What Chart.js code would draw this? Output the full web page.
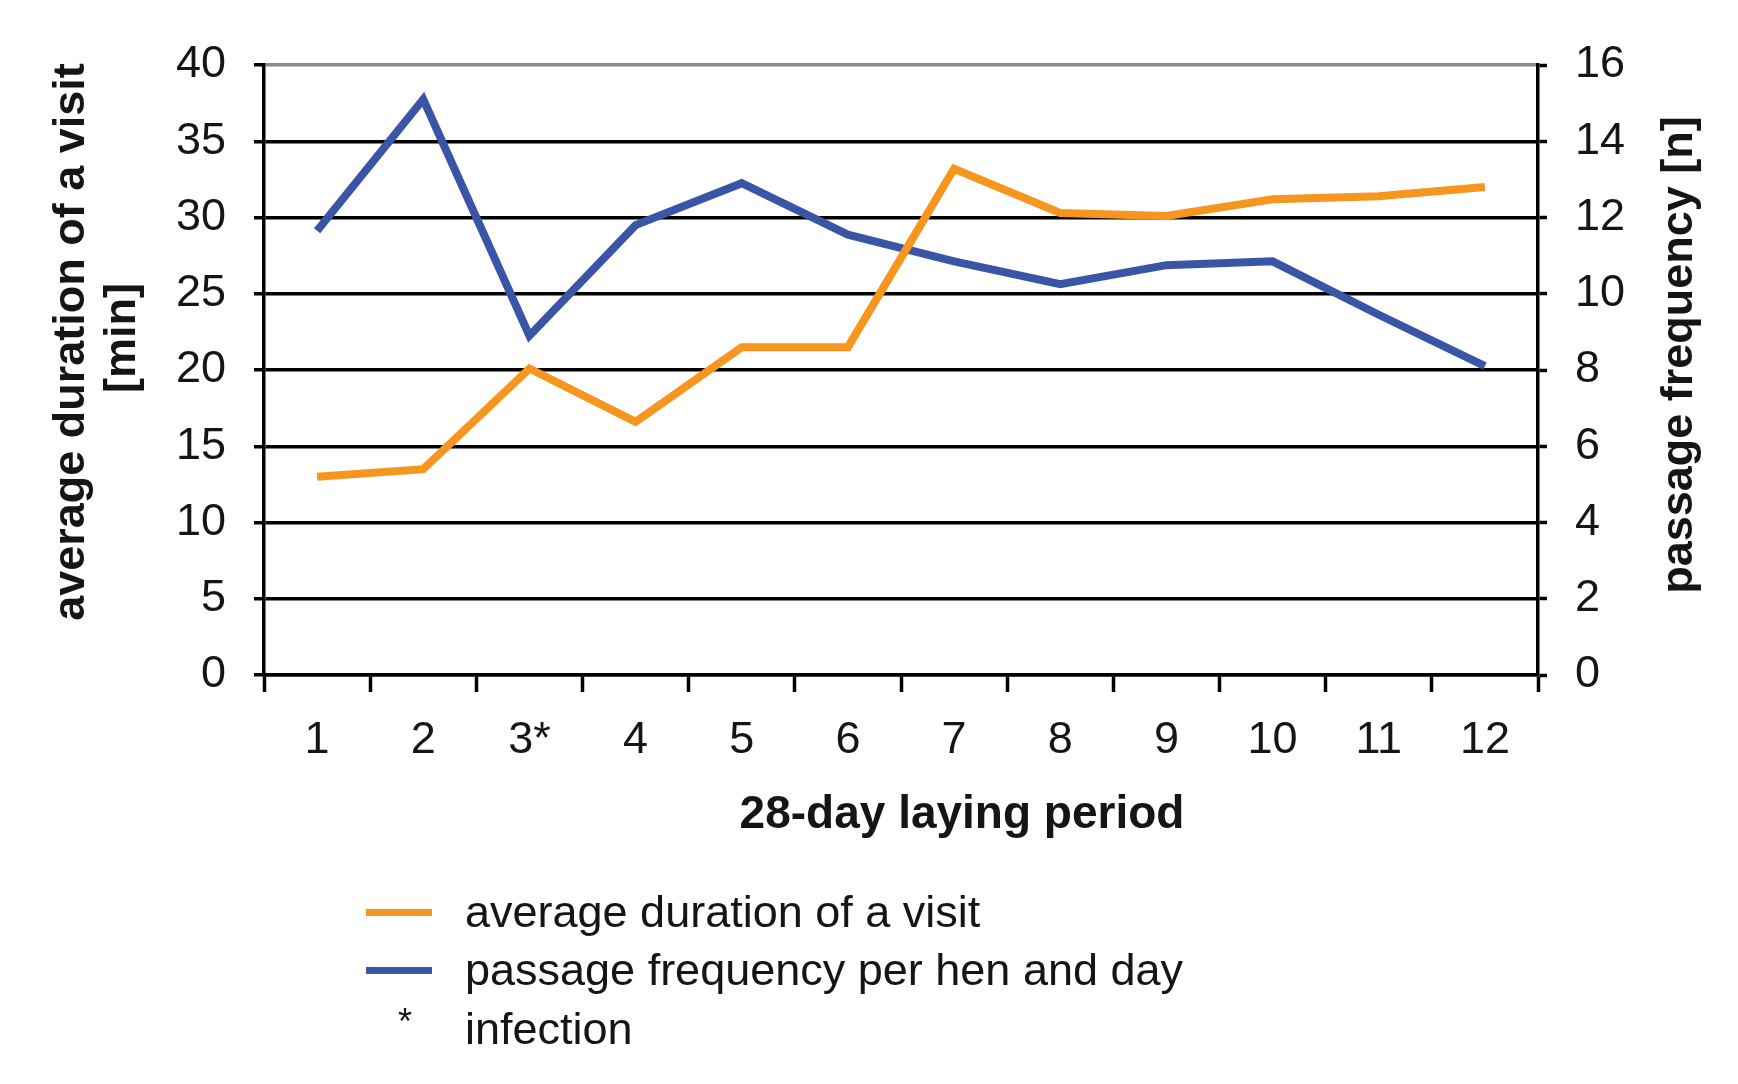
<!DOCTYPE html>
<html>
<head>
<meta charset="utf-8">
<script src="https://cdn.jsdelivr.net/npm/chart.js@4/dist/chart.umd.min.js"></script>
<style>
    html, body { margin: 0; padding: 0; background: #fff; }
    #wrap { position: relative; width: 1738px; height: 1084px; }
    #legend { position: absolute; left: 0; top: 0; font-family: "Liberation Sans", Arial, sans-serif; font-size: 45px; color: #151515; }
    .row { position: absolute; left: 366px; height: 60px; width: 1000px; }
    .row .swatch { position: absolute; left: 0; top: 27px; width: 66px; height: 7px; }
    .row .star { position: absolute; left: 32px; top: 2px; font-size: 36px; }
    .row .txt { position: absolute; left: 99px; top: 4px; white-space: nowrap; line-height: 52px; }
</style>
</head>
<body>
<div id="wrap">
    <canvas id="visitChart" width="1738" height="1084"></canvas>
    <div id="legend"></div>
</div>
<script>
// 28-day laying periods (3rd = infection)
const periods = ['1', '2', '3*', '4', '5', '6', '7', '8', '9', '10', '11', '12'];
// average duration of a visit [min]
const durationValues = [13.0, 13.5, 20.1, 16.6, 21.5, 21.5, 33.2, 30.3, 30.1, 31.2, 31.4, 32.0];
// passage frequency per hen and day [n]
const frequencyValues = [11.65, 15.1, 8.9, 11.8, 12.9, 11.55, 10.85, 10.25, 10.75, 10.85, 9.45, 8.1];
const leftTicks = [0, 5, 10, 15, 20, 25, 30, 35, 40];
const rightTicks = [0, 2, 4, 6, 8, 10, 12, 14, 16];

const ORANGE = '#f7961e';
const BLUE = '#3b55a6';
const TEXT = '#151515';
const FONT = '"Liberation Sans", Arial, sans-serif';

// 축 제목 직접 그리기 (위치 맞추기 위해)
function drawText(ctx, text, x, y, rot, font) {
    ctx.save();
    ctx.translate(x, y);
    ctx.rotate(rot);
    ctx.font = font;
    ctx.fillStyle = TEXT;
    ctx.textAlign = 'center';
    ctx.textBaseline = 'middle';
    ctx.fillText(text, 0, 0);
    ctx.restore();
}

const axisTitlePlugin = {
    id: 'axisTitles',
    afterDraw(chart) {
        const ctx = chart.ctx;
        const bold = 'bold 45px ' + FONT;
        drawText(ctx, 'average duration of a visit', 72, 342, -Math.PI / 2, bold);
        drawText(ctx, '[min]', 123, 338, -Math.PI / 2, bold);
        drawText(ctx, 'passage frequency [n]', 1680, 355, -Math.PI / 2, bold);
        drawText(ctx, '28-day laying period', 962, 815, 0, 'bold 46px ' + FONT);
    }
};

const ctx = document.getElementById('visitChart').getContext('2d');

window.visitChart = new Chart(ctx, {
    type: 'line',
    data: {
        labels: periods,
        datasets: [{
            label: 'average duration of a visit',
            data: durationValues,
            borderColor: ORANGE,
            backgroundColor: ORANGE,
            borderWidth: 8,
            pointRadius: 0,
            tension: 0,
            yAxisID: 'y'
        }, {
            label: 'passage frequency per hen and day',
            data: frequencyValues,
            borderColor: BLUE,
            backgroundColor: BLUE,
            borderWidth: 8,
            pointRadius: 0,
            tension: 0,
            yAxisID: 'y1'
        }]
    },
    options: {
        responsive: false,
        animation: false,
        layout: {
            padding: { top: 65, bottom: 219, left: 0, right: 0 }
        },
        plugins: {
            legend: { display: false },
            tooltip: { enabled: false }
        },
        scales: {
            x: {
                offset: true,
                afterFit: (s) => { s.height = 190; },
                border: { color: '#000', width: 3.5 },
                grid: {
                    offset: true,
                    drawOnChartArea: false,
                    drawTicks: true,
                    tickLength: 17,
                    tickWidth: 3.5,
                    tickColor: '#000'
                },
                ticks: {
                    color: TEXT,
                    padding: 22,
                    font: { family: FONT, size: 45 }
                }
            },
            y: {
                position: 'left',
                min: 0,
                max: 40,
                afterFit: (s) => { s.width = 264; },
                afterBuildTicks: (s) => { s.ticks = leftTicks.map(v => ({ value: v })); },
                border: { color: '#000', width: 3.5 },
                grid: {
                    color: (c) => (c.tick && c.tick.value === 40 ? '#888' : '#000'),
                    lineWidth: 3.5,
                    tickLength: 10,
                    tickColor: '#000'
                },
                ticks: {
                    color: TEXT,
                    padding: 28,
                    font: { family: FONT, size: 45 }
                }
            },
            y1: {
                position: 'right',
                min: 0,
                max: 16,
                afterFit: (s) => { s.width = 200; },
                afterBuildTicks: (s) => { s.ticks = rightTicks.map(v => ({ value: v })); },
                border: { color: '#000', width: 3.5 },
                grid: {
                    drawOnChartArea: false,
                    tickLength: 9,
                    tickWidth: 3.5,
                    tickColor: '#000'
                },
                ticks: {
                    color: TEXT,
                    padding: 28,
                    font: { family: FONT, size: 45 }
                }
            }
        }
    },
    plugins: [axisTitlePlugin]
});

// 범례 (HTML)
const legendRows = [
    { color: ORANGE, text: 'average duration of a visit', top: 882 },
    { color: BLUE, text: 'passage frequency per hen and day', top: 940 },
    { star: true, text: 'infection', top: 999 }
];
const legendEl = document.getElementById('legend');
legendRows.forEach(r => {
    const row = document.createElement('div');
    row.className = 'row';
    row.style.top = r.top + 'px';
    if (r.star) {
        row.innerHTML = '<span class="star">*</span>';
    } else {
        row.innerHTML = '<span class="swatch" style="background:' + r.color + '"></span>';
    }
    row.innerHTML += '<span class="txt">' + r.text + '</span>';
    legendEl.appendChild(row);
});
</script>
</body>
</html>
